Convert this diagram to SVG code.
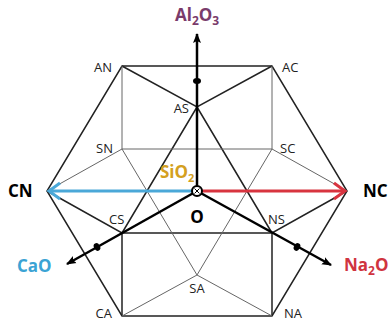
<svg xmlns="http://www.w3.org/2000/svg" width="390" height="322" viewBox="0 0 390 322">
<style>
.d{stroke:#222;stroke-width:1.5;fill:none}
.g{stroke:#666;stroke-width:1;fill:none}
.ax{stroke:#000;stroke-width:2.5;fill:none}
.lb{font-family:"Open Sans","Liberation Sans",sans-serif;font-size:13px;fill:#222}
.bt{font-family:"Open Sans","Liberation Sans",sans-serif;font-size:17px;font-weight:bold}
</style>
<defs>
<marker id="ab" viewBox="0 0 10 10" refX="9" refY="5" markerWidth="4" markerHeight="4" markerUnits="strokeWidth" orient="auto">
<path d="M0,1 L10,5 L0,9 L2,5 Z" fill="#000"/>
</marker>
</defs>
<rect width="390" height="322" fill="#fff"/>
<g id="connectors">
<path class="d" d="M122,66 L272,66 L347,191 L272,316 L122,316 L47,191 Z"/>
<path class="d" d="M122,66 L197,107 L272,66 M197,107 L122,233 M197,107 L272,233 M47,191 L122,233 L272,233 L347,191 M122,233 L122,316 M272,233 L272,316"/>
<path class="g" d="M122,66 L122,149 L272,149 L272,66 M122,149 L47,191 M272,149 L347,191 M122,149 L197,275 L272,149 M122,316 L197,275 L272,316"/>
<line class="ax" x1="197" y1="191" x2="197" y2="34" marker-end="url(#ab)"/>
<line class="ax" x1="197" y1="191" x2="67" y2="264" marker-end="url(#ab)"/>
<line class="ax" x1="197" y1="191" x2="331" y2="265" marker-end="url(#ab)"/>
<line x1="197" y1="191" x2="50" y2="191" stroke="#4aa8d8" stroke-width="3"/>
<path d="M60,183 L49,191 L60,199" stroke="#4aa8d8" stroke-width="3" fill="none"/>
<line x1="197" y1="191" x2="344" y2="191" stroke="#d8343f" stroke-width="3"/>
<path d="M334,183 L345,191 L334,199" stroke="#d8343f" stroke-width="3" fill="none"/>
<ellipse cx="197" cy="81" rx="4" ry="3" fill="#000"/>
<ellipse cx="97" cy="247" rx="3" ry="4" fill="#000" transform="rotate(-30 97 247)"/>
<ellipse cx="297" cy="247" rx="3" ry="4" fill="#000" transform="rotate(30 297 247)"/>
<circle cx="197" cy="191" r="5" fill="#fff" stroke="#000" stroke-width="2"/>
<path d="M194.5,188.5 L199.5,193.5 M199.5,188.5 L194.5,193.5" stroke="#000" stroke-width="1"/>
</g>
<g id="AN"><text class="lb" x="112" y="72" text-anchor="end">AN</text></g>
<g id="AC"><text class="lb" x="282" y="72">AC</text></g>
<g id="AS"><text class="lb" x="189" y="113" text-anchor="end">AS</text></g>
<g id="SN"><text class="lb" x="113" y="153" text-anchor="end">SN</text></g>
<g id="SC"><text class="lb" x="280" y="153">SC</text></g>
<g id="CS"><text class="lb" x="109" y="224">CS</text></g>
<g id="NS"><text class="lb" x="268" y="224">NS</text></g>
<g id="SA"><text class="lb" x="197" y="293" text-anchor="middle">SA</text></g>
<g id="CA"><text class="lb" x="112" y="318" text-anchor="end">CA</text></g>
<g id="NA"><text class="lb" x="284" y="318">NA</text></g>
<g id="Al2O3"><text class="bt" x="175" y="21" fill="#7a3b6b">Al<tspan font-size="12" dy="4">2</tspan><tspan dy="-4">O</tspan><tspan font-size="12" dy="4">3</tspan></text></g>
<g id="CN"><text class="bt" x="8" y="197" fill="#000">CN</text></g>
<g id="NC"><text class="bt" x="363" y="197" fill="#000">NC</text></g>
<g id="CaO"><text class="bt" x="17" y="272" fill="#3ba3d4">CaO</text></g>
<g id="Na2O"><text class="bt" x="344" y="271" fill="#d0343f">Na<tspan font-size="12" dy="4">2</tspan><tspan dy="-4">O</tspan></text></g>
<g id="SiO2"><text class="bt" x="160" y="178" fill="#d4a020" font-size="15">SiO<tspan font-size="11" dy="4">2</tspan></text></g>
<g id="O"><text class="bt" x="197" y="223" text-anchor="middle" fill="#000">O</text></g>
</svg>
